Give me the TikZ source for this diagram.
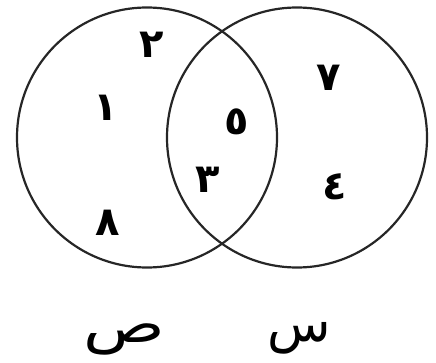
\documentclass[tikz,border=0pt]{standalone}
\usepackage{fontspec}
\TeXXeTstate=1
\newfontfamily\arabicfont[Script=Arabic]{DejaVu Sans}
\begin{document}
\begin{tikzpicture}[x=1pt,y=1pt,
  setcircle/.style={draw=black!85,line width=2.2pt},
  digit/.style={font=\arabicfont\bfseries\fontsize{40}{48}\selectfont,inner sep=0pt},
  setname/.style={font=\arabicfont\fontsize{52}{60}\selectfont,inner sep=0pt}]
\useasboundingbox (0,0) rectangle (436,362);
\node[setcircle,circle,minimum size=260pt,inner sep=0pt] (A) at (147,224.5) {};
\node[setcircle,circle,minimum size=260pt,inner sep=0pt] (B) at (297,224.5) {};
\node[digit] (d2) at (152,317) {\beginR ٢\endR};
\node[digit] (d1) at (106,254) {\beginR ١\endR};
\node[digit] (d8) at (108,139) {\beginR ٨\endR};
\node[digit] (d5) at (237,240) {\beginR ٥\endR};
\node[digit] (d3) at (208,182) {\beginR ٣\endR};
\node[digit] (d7) at (329,284) {\beginR ٧\endR};
\node[digit] (d4) at (335,175) {\beginR ٤\endR};
\node[setname] (lA) at (124,23) {\scalebox{1.3}[1]{\beginR ص\endR}};
\node[setname] (lB) at (299,24) {\beginR س\endR};
\end{tikzpicture}
\end{document}
